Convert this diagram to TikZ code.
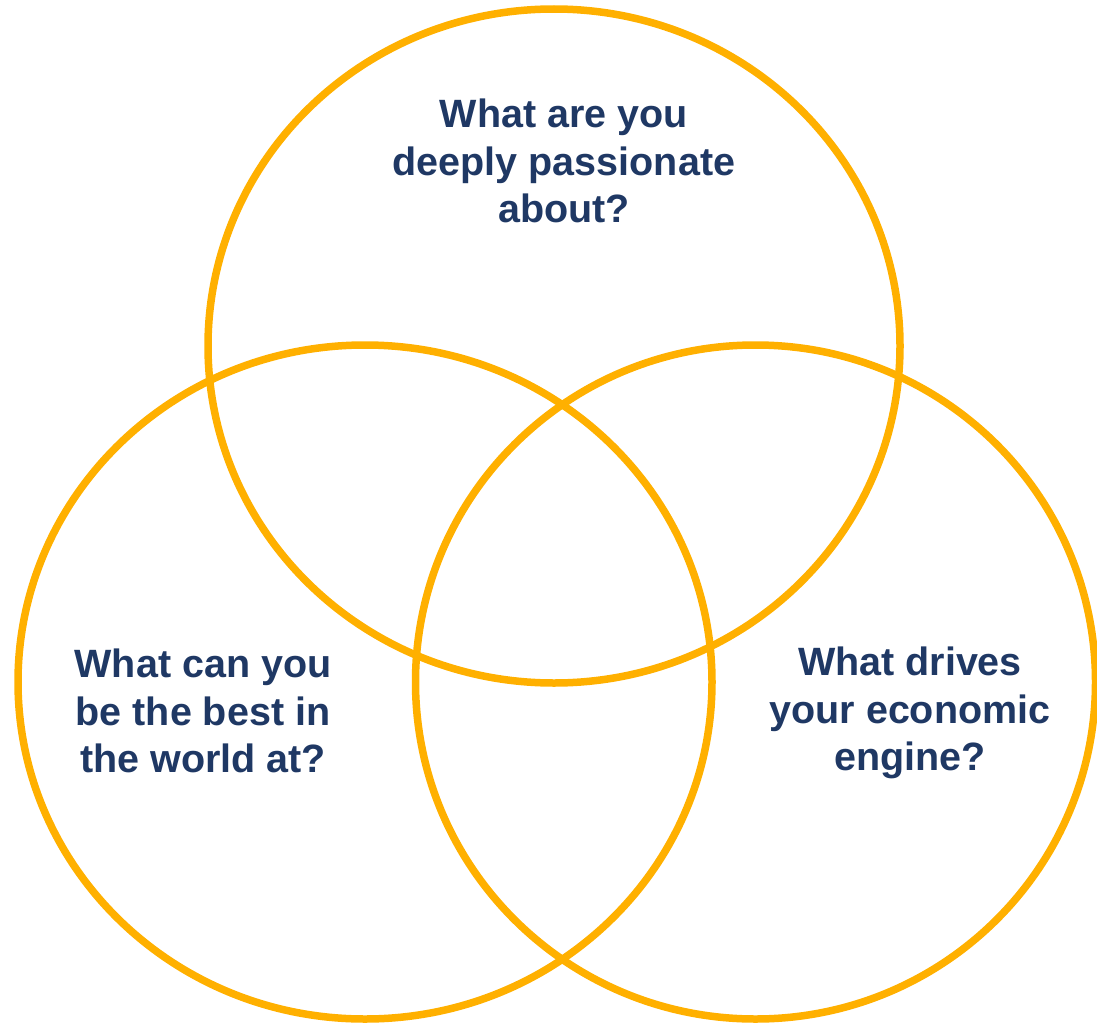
\documentclass[tikz,border=0pt]{standalone}
\usepackage{fontspec}
\setmainfont{Liberation Sans}
\definecolor{ringorange}{RGB}{255,176,0}
\definecolor{textnavy}{RGB}{31,56,100}
\begin{document}
\begin{tikzpicture}[x=1pt,y=-1pt,
  ring/.style={draw=ringorange,line width=7.5pt},
  question/.style={text=textnavy,align=center,inner sep=0pt,
    font=\fontsize{39.5}{47.5}\selectfont\bfseries}]
  \useasboundingbox (0,0) rectangle (1097,1025);
  % three overlapping rings
  \draw[ring] (554,346) ellipse [x radius=346, y radius=337];
  \draw[ring] (365,682) ellipse [x radius=347, y radius=337];
  \draw[ring] (755.5,682) ellipse [x radius=340, y radius=337];
  % the three questions
  \node[question] (passion) at (564,161) {What are you\\deeply passionate\\about?};
  \node[question] (best) at (203,711) {What can you\\be the best in\\the world at?};
  \node[question] (engine) at (910,713) {What drives\\your economic\\engine?};
\end{tikzpicture}
\end{document}
